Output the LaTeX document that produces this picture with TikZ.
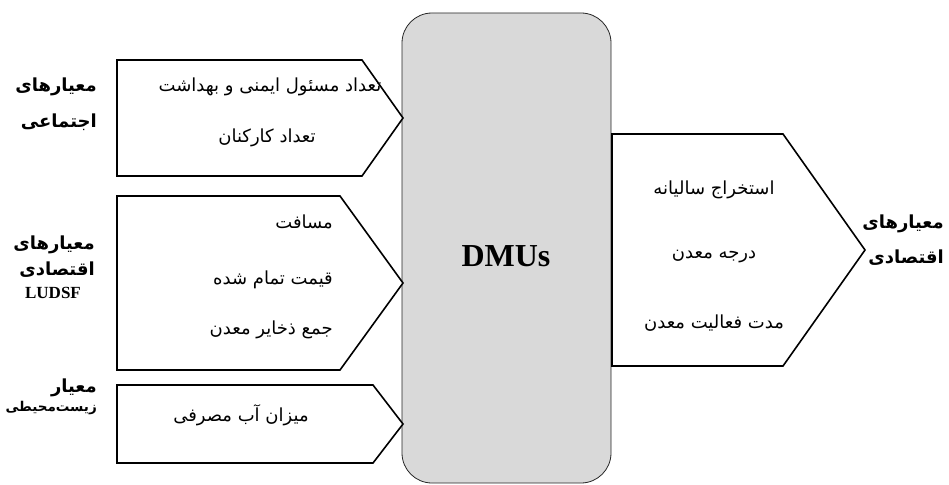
\documentclass[tikz,border=0pt]{standalone}
\usepackage{fontspec}
\setmainfont{Liberation Serif}
\newfontfamily\farsi[Script=Arabic]{DejaVu Sans}
\TeXXeTstate=1
\usetikzlibrary{positioning}

\begin{document}
\begin{tikzpicture}[x=1pt,y=-1pt,
		dmu/.style={rectangle, rounded corners=30pt, draw=black!85, line width=0.8pt, fill=black!15, minimum width=209pt, minimum height=470pt, inner sep=0pt},
		crit/.style={draw=black, line width=1.6pt, fill=white},
		item/.style={font=\farsi\fontsize{18}{20}\selectfont, inner sep=0pt},
		group/.style={font=\farsi\bfseries\fontsize{18}{20}\selectfont, inner sep=0pt, anchor=east}]
		\useasboundingbox (0,0) rectangle (949,484);
		\node[dmu] (dmu) at (506.5,248) {};
		\node[font=\bfseries\fontsize{32}{36}\selectfont] (dmulbl) at (506,256) {DMUs};
		
		% input boxes
		\draw[crit] (117,60) -- (362,60) -- (403,118) -- (362,176) -- (117,176) -- cycle;
		\draw[crit] (117,196) -- (340,196) -- (403,283) -- (340,370) -- (117,370) -- cycle;
		\draw[crit] (117,385) -- (373,385) -- (403,424) -- (373,463) -- (117,463) -- cycle;
		% output box
		\draw[crit] (612,134) -- (783,134) -- (865,250) -- (783,366) -- (612,366) -- cycle;
		
		\node[item] (s1) at (270,87) {\beginR تعداد مسئول ایمنی و بهداشت\endR};
		\node[item] (s2) at (267,138) {\beginR تعداد کارکنان\endR};
		\node[item, anchor=east] (e1) at (333,222) {\beginR مسافت\endR};
		\node[item, anchor=east] (e2) at (333,280) {\beginR قیمت تمام شده\endR};
		\node[item, anchor=east] (e3) at (333,330) {\beginR جمع ذخایر معدن\endR};
		\node[item] (w1) at (241,415) {\beginR میزان آب مصرفی\endR};
		\node[item] (o1) at (714,190) {\beginR استخراج سالیانه\endR};
		\node[item] (o2) at (714,257) {\beginR درجه معدن\endR};
		\node[item] (o3) at (714,323) {\beginR مدت فعالیت معدن\endR};
		
		\node[group] (gs1) at (97,87) {\beginR معیارهای\endR};
		\node[group] (gs2) at (97,122) {\beginR اجتماعی\endR};
		\node[group] (ge1) at (95,245) {\beginR معیارهای\endR};
		\node[group] (ge2) at (95,270) {\beginR اقتصادی\endR};
		\node[font=\bfseries\fontsize{17}{19}\selectfont, inner sep=0pt] (ge3) at (53,293) {LUDSF};
		\node[group] (gw1) at (97,388) {\beginR معیار\endR};
		\node[group, font=\farsi\bfseries\fontsize{13.5}{15}\selectfont] (gw2) at (97,408) {\beginR زیست‌محیطی\endR};
		\node[group] (go1) at (944,224) {\beginR معیارهای\endR};
		\node[group] (go2) at (944,258) {\beginR اقتصادی\endR};
		
	\end{tikzpicture}
\end{document}
